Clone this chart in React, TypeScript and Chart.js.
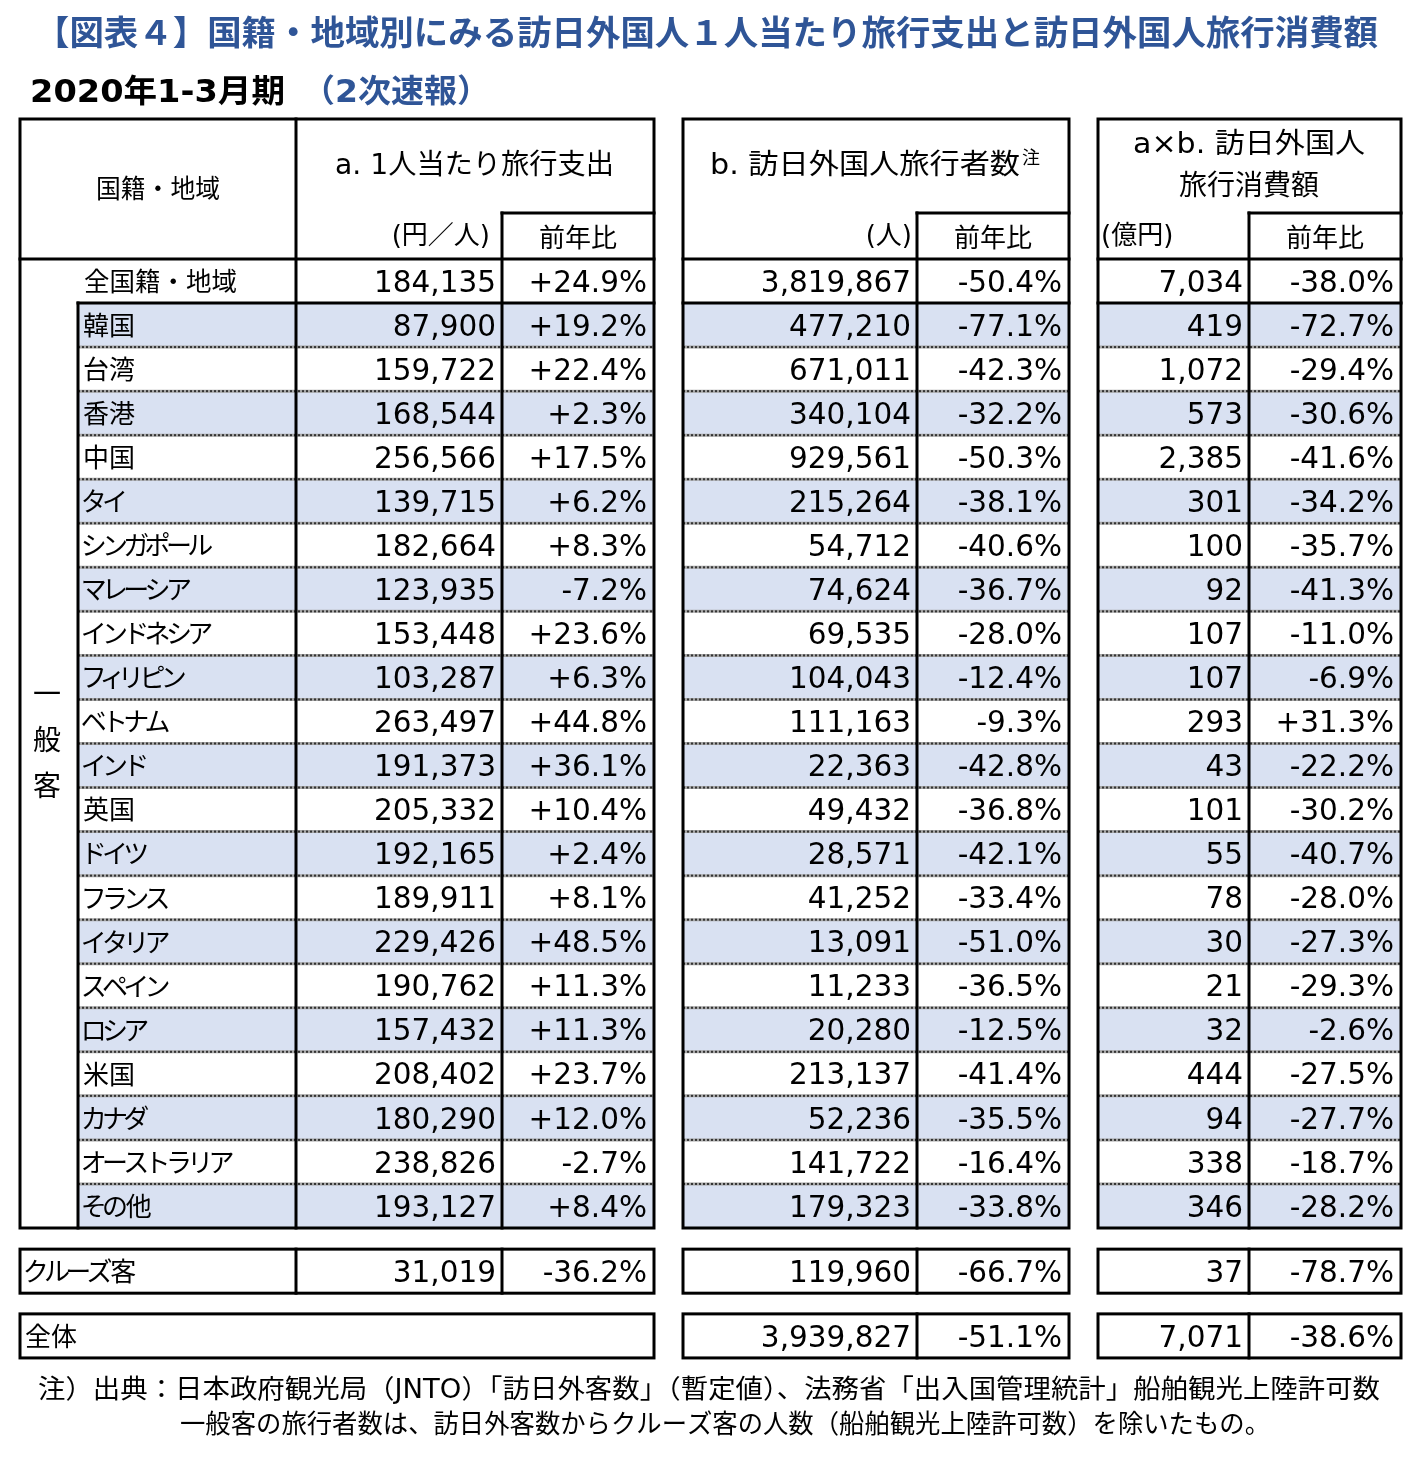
import { useEffect, useRef } from 'react';
import { Chart, registerables } from 'chart.js';

Chart.register(...registerables);

const CANVAS_W = 1421;
const CANVAS_H = 1465;

// ---------- text ----------
const titleText = '【図表４】国籍・地域別にみる訪日外国人１人当たり旅行支出と訪日外国人旅行消費額';
const periodText = '2020年1-3月期';
const releaseText = '（2次速報）';
const headerRegion = '国籍・地域';
const headerA = 'a. 1人当たり旅行支出';
const headerB = 'b. 訪日外国人旅行者数';
const headerBNote = '注';
const headerC = ['a×b. 訪日外国人', '旅行消費額'];
const unitLabels = ['(円／人)', '(人)', '(億円)'];
const yoyLabel = '前年比';
const groupLabel = ['一', '般', '客'];
const allLabel = '全国籍・地域';
const cruiseLabel = 'クルーズ客';
const totalLabel = '全体';
const footnotes = [
  '注）出典：日本政府観光局（JNTO）「訪日外客数」（暫定値）、法務省「出入国管理統計」船舶観光上陸許可数',
  '一般客の旅行者数は、訪日外客数からクルーズ客の人数（船舶観光上陸許可数）を除いたもの。',
];

// ---------- data ----------
const countries = ['韓国', '台湾', '香港', '中国', 'タイ', 'シンガポール', 'マレーシア', 'インドネシア', 'フィリピン', 'ベトナム', 'インド', '英国', 'ドイツ', 'フランス', 'イタリア', 'スペイン', 'ロシア', '米国', 'カナダ', 'オーストラリア', 'その他'];
const spendPerPerson = [87900, 159722, 168544, 256566, 139715, 182664, 123935, 153448, 103287, 263497, 191373, 205332, 192165, 189911, 229426, 190762, 157432, 208402, 180290, 238826, 193127];
const spendYoY = [19.2, 22.4, 2.3, 17.5, 6.2, 8.3, -7.2, 23.6, 6.3, 44.8, 36.1, 10.4, 2.4, 8.1, 48.5, 11.3, 11.3, 23.7, 12.0, -2.7, 8.4];
const visitors = [477210, 671011, 340104, 929561, 215264, 54712, 74624, 69535, 104043, 111163, 22363, 49432, 28571, 41252, 13091, 11233, 20280, 213137, 52236, 141722, 179323];
const visitorsYoY = [-77.1, -42.3, -32.2, -50.3, -38.1, -40.6, -36.7, -28.0, -12.4, -9.3, -42.8, -36.8, -42.1, -33.4, -51.0, -36.5, -12.5, -41.4, -35.5, -16.4, -33.8];
const consumption = [419, 1072, 573, 2385, 301, 100, 92, 107, 107, 293, 43, 101, 55, 78, 30, 21, 32, 444, 94, 338, 346];
const consumptionYoY = [-72.7, -29.4, -30.6, -41.6, -34.2, -35.7, -41.3, -11.0, -6.9, 31.3, -22.2, -30.2, -40.7, -28.0, -27.3, -29.3, -2.6, -27.5, -27.7, -18.7, -28.2];
// [spend, spendYoY, visitors, visitorsYoY, consumption, consumptionYoY]
const allValues = [184135, 24.9, 3819867, -50.4, 7034, -38.0];
const cruiseValues = [31019, -36.2, 119960, -66.7, 37, -78.7];
const totalValues = [null, null, 3939827, -51.1, 7071, -38.6];

const rowLabels = [allLabel, ...countries];

// ---------- style / layout ----------
const BLUE = '#2F5597';
const SHADE = '#D9E1F2';
const JP = '"Noto Sans CJK JP", sans-serif';
const MIX = '"DejaVu Sans", "Noto Sans CJK JP", sans-serif';
const HEAD_TOP = 119;
const HEAD_MID = 213;
const HEAD_BOT = 259;
const BODY_BOT = 1228;
const CRUISE_ROW = 22.48;
const TOTAL_ROW = 23.95;
const GROUP_X = 78;
const LABEL_SPLIT = 296;
const BLOCKS = [
  { left: 20, split: 502, right: 654 },
  { left: 683, split: 917, right: 1069 },
  { left: 1098, split: 1249, right: 1401 },
];

const fmtNum = (v: number) => v.toLocaleString('en-US');
const fmtPct = (v: number) => (v > 0 ? '+' : '') + v.toFixed(1) + '%';

function txt(
  ctx: CanvasRenderingContext2D,
  s: string,
  x: number,
  y: number,
  font: string,
  align: CanvasTextAlign = 'left',
  color = '#000',
  fitW?: number
) {
  ctx.save();
  ctx.font = font;
  ctx.fillStyle = color;
  ctx.textBaseline = 'middle';
  ctx.textAlign = align;
  if (fitW) {
    const w = ctx.measureText(s).width;
    ctx.translate(x, y);
    ctx.scale(fitW / w, 1);
    ctx.fillText(s, 0, 0);
  } else {
    ctx.fillText(s, x, y);
  }
  ctx.restore();
}

// proportional-kana drawing (approximates the narrow kana of the original font)
const SMALL_KANA = 'ァィゥェォッャュョヮ';
function propTxt(ctx: CanvasRenderingContext2D, s: string, x: number, y: number, font: string) {
  ctx.save();
  ctx.font = font;
  ctx.fillStyle = '#000';
  ctx.textBaseline = 'middle';
  ctx.textAlign = 'left';
  let cx = x;
  for (const ch of s) {
    const w = ctx.measureText(ch).width;
    const code = ch.charCodeAt(0);
    const isKata = code >= 0x30a0 && code <= 0x30ff;
    const isHira = code >= 0x3040 && code <= 0x309f;
    let f = 1;
    if (SMALL_KANA.includes(ch)) f = 0.62;
    else if (isKata || isHira) f = 0.82;
    const shift = ((1 - f) * w) / 2;
    ctx.fillText(ch, cx - shift, y);
    cx += w * f;
  }
  ctx.restore();
}

function line(ctx: CanvasRenderingContext2D, x1: number, y1: number, x2: number, y2: number, w = 3) {
  ctx.save();
  ctx.strokeStyle = '#000';
  ctx.lineWidth = w;
  ctx.lineCap = 'square';
  ctx.beginPath();
  ctx.moveTo(x1, y1);
  ctx.lineTo(x2, y2);
  ctx.stroke();
  ctx.restore();
}

function dotted(ctx: CanvasRenderingContext2D, x1: number, x2: number, y: number) {
  ctx.save();
  ctx.strokeStyle = '#a6a6a6';
  ctx.lineWidth = 3;
  ctx.beginPath();
  ctx.moveTo(x1, y);
  ctx.lineTo(x2, y);
  ctx.stroke();
  ctx.strokeStyle = '#333';
  ctx.lineWidth = 2;
  ctx.setLineDash([2, 2]);
  ctx.beginPath();
  ctx.moveTo(x1, y);
  ctx.lineTo(x2, y);
  ctx.stroke();
  ctx.restore();
}

const tablePlugin = {
  id: 'tablePlugin',
  afterDraw(chart: any) {
    const ctx: CanvasRenderingContext2D = chart.ctx;
    const ys = chart.scales.y;
    const center = (i: number) => ys.getPixelForValue(i);
    const half = (ys.getPixelForValue(1) - ys.getPixelForValue(0)) / 2;
    const top = (i: number) => center(i) - half;
    const bot = (i: number) => center(i) + half;

    ctx.save();
    ctx.fillStyle = '#fff';
    ctx.fillRect(0, 0, CANVAS_W, CANVAS_H);

    // title
    txt(ctx, titleText, 35, 36, `bold 34px ${MIX}`, 'left', BLUE, 1343);
    txt(ctx, periodText, 30, 94, `bold 32px ${MIX}`, 'left', '#000', 255);
    txt(ctx, releaseText, 302, 94, `bold 32px ${MIX}`, 'left', BLUE, 188);

    // shading
    ctx.fillStyle = SHADE;
    countries.forEach((_, k) => {
      if (k % 2 !== 0) return;
      const r = k + 1;
      BLOCKS.forEach((b, bi) => {
        const x0 = bi === 0 ? GROUP_X : b.left;
        ctx.fillRect(x0, top(r), b.right - x0, 2 * half);
      });
    });

    // dotted separators
    for (let r = 1; r < rowLabels.length - 1; r++) {
      BLOCKS.forEach((b, bi) => {
        dotted(ctx, bi === 0 ? GROUP_X : b.left, b.right, bot(r));
      });
    }

    // solid lines of main table
    BLOCKS.forEach((b, bi) => {
      ctx.save();
      ctx.strokeStyle = '#000';
      ctx.lineWidth = 3;
      ctx.strokeRect(b.left, HEAD_TOP, b.right - b.left, BODY_BOT - HEAD_TOP);
      ctx.restore();
      line(ctx, b.split, HEAD_MID, b.split, BODY_BOT);
      line(ctx, b.split, HEAD_MID, b.right, HEAD_MID);
      line(ctx, b.left, HEAD_BOT, b.right, HEAD_BOT);
      line(ctx, bi === 0 ? GROUP_X : b.left, bot(0), b.right, bot(0));
      if (bi === 0) {
        line(ctx, LABEL_SPLIT, HEAD_TOP, LABEL_SPLIT, BODY_BOT);
        line(ctx, GROUP_X, bot(0), GROUP_X, BODY_BOT);
      }
    });

    // cruise & total boxes
    [CRUISE_ROW, TOTAL_ROW].forEach((r, ri) => {
      BLOCKS.forEach((b, bi) => {
        ctx.save();
        ctx.strokeStyle = '#000';
        ctx.lineWidth = 3;
        ctx.strokeRect(b.left, top(r), b.right - b.left, 2 * half);
        ctx.restore();
        if (bi === 0 && ri === 1) return;
        line(ctx, b.split, top(r), b.split, bot(r));
        if (bi === 0) line(ctx, LABEL_SPLIT, top(r), LABEL_SPLIT, bot(r));
      });
    });

    // header text
    const hf = `26px ${MIX}`;
    txt(ctx, headerRegion, 158, 188, `26px ${JP}`, 'center', '#000', 124);
    txt(ctx, headerA, 335, 167, `28px ${MIX}`, 'left', '#000', 279);
    txt(ctx, headerB, 710, 167, `28px ${MIX}`, 'left', '#000', 310);
    txt(ctx, headerBNote, 1022, 157, `18px ${JP}`, 'left');
    txt(ctx, headerC[0], 1249, 146, `28px ${MIX}`, 'center', '#000', 232);
    txt(ctx, headerC[1], 1249, 188, `28px ${MIX}`, 'center');
    txt(ctx, unitLabels[0], 490, 237, hf, 'right');
    txt(ctx, unitLabels[1], 912, 237, hf, 'right');
    txt(ctx, unitLabels[2], 1101, 237, hf, 'left');
    BLOCKS.forEach((b) => txt(ctx, yoyLabel, (b.split + b.right) / 2, 237, `26px ${JP}`, 'center'));

    // group label
    groupLabel.forEach((ch, i) => txt(ctx, ch, 47, 693 + i * 46, `28px ${JP}`, 'center'));

    // body text
    const nf = `29.5px ${MIX}`;
    const drawValues = (vals: (number | null)[], yc: number) => {
      BLOCKS.forEach((b, bi) => {
        const v = vals[bi * 2];
        const p = vals[bi * 2 + 1];
        if (v != null) txt(ctx, fmtNum(v), b.split - 6, yc + 3, nf, 'right');
        if (p != null) txt(ctx, fmtPct(p), b.right - 7, yc + 3, nf, 'right');
      });
    };
    txt(ctx, allLabel, 84, center(0), `26px ${JP}`, 'left', '#000', 153);
    drawValues(allValues, center(0));
    countries.forEach((c, k) => {
      const yc = center(k + 1);
      propTxt(ctx, c, 83, yc, `26px ${JP}`);
      drawValues([spendPerPerson[k], spendYoY[k], visitors[k], visitorsYoY[k], consumption[k], consumptionYoY[k]], yc);
    });
    propTxt(ctx, cruiseLabel, 25, center(CRUISE_ROW), `26px ${JP}`);
    drawValues(cruiseValues, center(CRUISE_ROW));
    txt(ctx, totalLabel, 25, center(TOTAL_ROW), `26px ${JP}`, 'left');
    drawValues(totalValues, center(TOTAL_ROW));

    // footnotes
    txt(ctx, footnotes[0], 38, 1391, `26px ${MIX}`, 'left', '#000', 1342);
    txt(ctx, footnotes[1], 180, 1426, `26px ${MIX}`, 'left', '#000', 1090);

    ctx.restore();
  },
};

export default function App() {
  const ref = useRef<HTMLCanvasElement | null>(null);
  useEffect(() => {
    document.body.style.margin = '0';
    if (!ref.current) return;
    const chart = new Chart(ref.current, {
      type: 'bar',
      data: { labels: rowLabels, datasets: [{ data: [] }] },
      options: {
        indexAxis: 'y',
        responsive: false,
        animation: false,
        devicePixelRatio: 1,
        layout: { padding: { top: HEAD_BOT, bottom: CANVAS_H - BODY_BOT, left: 0, right: 0 } },
        scales: {
          x: { type: 'linear', min: 0, max: CANVAS_W, display: false },
          y: { type: 'category', display: false, offset: true },
        },
        plugins: { legend: { display: false }, tooltip: { enabled: false } },
      },
      plugins: [tablePlugin],
    } as any);
    return () => chart.destroy();
  }, []);
  return <canvas ref={ref} width={CANVAS_W} height={CANVAS_H} style={{ display: 'block' }} />;
}
